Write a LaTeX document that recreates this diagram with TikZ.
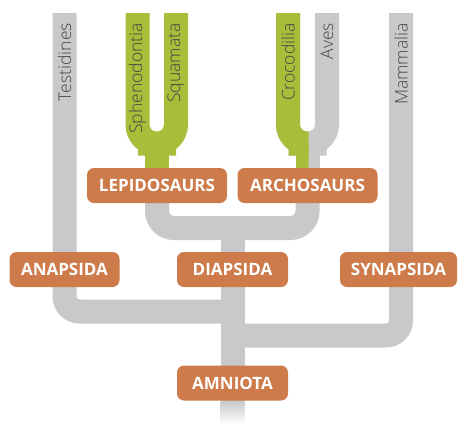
\documentclass[tikz,border=0pt]{standalone}
\usepackage{tikz}
\usepackage{fontspec}
\usetikzlibrary{positioning,backgrounds}
\newfontfamily\cladefont{Open Sans}
\newfontfamily\tipfont{Open Sans Light}
\definecolor{cladebox}{RGB}{205,123,74}
\definecolor{cladegreen}{RGB}{168,190,58}
\definecolor{cladegray}{RGB}{200,201,203}
\definecolor{tiptext}{RGB}{70,70,70}
\tikzset{x=1pt, y=-1pt,
  clade/.style={draw=none, fill=cladebox, rounded corners=7pt, text=white,
    font=\cladefont\bfseries\fontsize{17}{17}\selectfont,
    minimum height=35pt, inner sep=0pt},
  tip/.style={rotate=90, anchor=east, inner sep=0pt, text=tiptext,
    font=\tipfont\fontsize{17.5}{17.5}\selectfont},
  branch/.style={draw=cladegray, line width=24pt, rounded corners=15pt},
  greenbranch/.style={draw=cladegreen, line width=24pt, rounded corners=19pt}}

\begin{document}
\begin{tikzpicture}
\useasboundingbox (0,0) rectangle (458,424);

\coordinate (testi) at (64.5,13);
\coordinate (spheno) at (137.5,13);
\coordinate (squam) at (176,13);
\coordinate (croco) at (288,13);
\coordinate (aves) at (327,13);
\coordinate (mamma) at (401,13);
\coordinate (lepfork) at (157,143.5);
\coordinate (arcfork) at (307.5,143.5);
\coordinate (diajoin) at (232.5,228);
\coordinate (anajoin) at (232.5,311.5);
\coordinate (synjoin) at (232.5,335.5);

\node[clade, minimum width=140pt] (lepido) at (157,185.5) {LEPIDOSAURS};
\node[clade, minimum width=140pt] (archo) at (307.5,185.5) {ARCHOSAURS};
\node[clade, minimum width=110pt] (anap) at (64.5,269.5) {ANAPSIDA};
\node[clade, minimum width=111pt] (diap) at (232.5,269.5) {DIAPSIDA};
\node[clade, minimum width=117pt] (synap) at (398.5,269.5) {SYNAPSIDA};
\node[clade, minimum width=111pt] (amnio) at (232.5,383) {AMNIOTA};

\begin{pgfonlayer}{background}
\draw[branch] (testi) |- (anajoin);
\draw[branch] (mamma) |- (synjoin);
\draw[branch, rounded corners=17pt] (lepido.south) |- (diajoin) -| (archo.south);
\draw[branch] (diajoin) -- (amnio.south);
\shade[top color=cladegray, bottom color=white] (220.5,401) rectangle (244.5,424);
\draw[greenbranch] (spheno) |- (lepfork) -| (squam);
\draw[greenbranch, rounded corners=0pt] (lepfork) -- (lepido.north);
\draw[greenbranch, draw=cladegray] (croco) |- (arcfork) -| (aves);
\draw[greenbranch, draw=cladegray, rounded corners=0pt] (arcfork) -- (archo.north);
\clip (0,0) rectangle (308.5,170);
\draw[greenbranch] (croco) |- (arcfork) -| (aves);
\draw[greenbranch, rounded corners=0pt] (arcfork) -- (archo.north);
\end{pgfonlayer}

\node[tip] (testilab) at (64.5,23) {Testidines};
\node[tip] (sphenolab) at (137.5,23) {Sphenodontia};
\node[tip] (squamlab) at (176,23) {Squamata};
\node[tip] (crocolab) at (288,23) {Crocodilia};
\node[tip] (aveslab) at (327,23) {Aves};
\node[tip] (mammalab) at (401,23) {Mammalia};
\end{tikzpicture}
\end{document}
